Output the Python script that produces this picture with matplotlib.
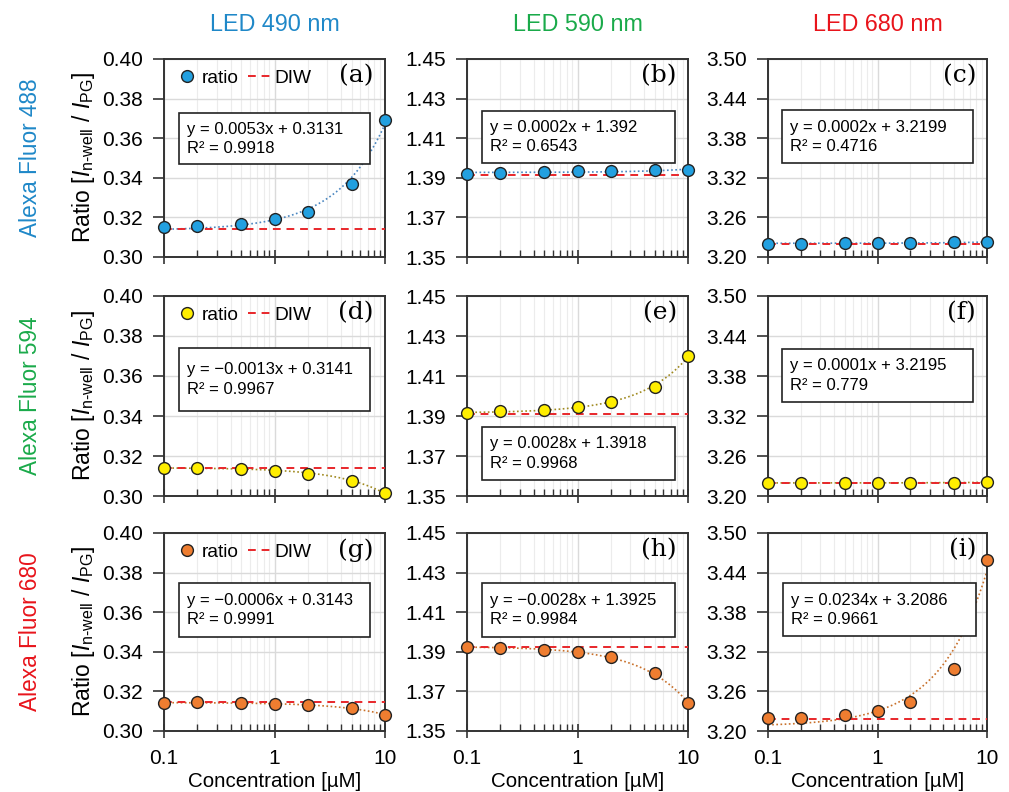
import numpy as np
import matplotlib.pyplot as plt
from matplotlib.patches import Rectangle
from matplotlib.ticker import FixedLocator, LogLocator, NullFormatter, FuncFormatter

plt.rcParams['font.family'] = ['Liberation Sans', 'DejaVu Sans']
plt.rcParams['mathtext.fontset'] = 'custom'
plt.rcParams['mathtext.rm'] = 'Liberation Sans'
plt.rcParams['mathtext.it'] = 'Liberation Sans:italic'

conc = [0.1, 0.2, 0.5, 1, 2, 5, 10]

# ratio values, rows = dye (488, 594, 680), cols = LED (490, 590, 680)
ratio = {
    'a': [0.3150, 0.3155, 0.3169, 0.3190, 0.3229, 0.3368, 0.3690],
    'b': [1.3919, 1.3926, 1.3929, 1.3933, 1.3934, 1.3939, 1.3941],
    'c': [3.2202, 3.2202, 3.2212, 3.2212, 3.2217, 3.2223, 3.2223],
    'd': [0.3141, 0.3141, 0.3137, 0.3127, 0.3112, 0.3075, 0.3014],
    'e': [1.3917, 1.3924, 1.3932, 1.3944, 1.3971, 1.4043, 1.4201],
    'f': [3.2196, 3.2196, 3.2197, 3.2197, 3.2198, 3.2200, 3.2206],
    'g': [0.3142, 0.3144, 0.3142, 0.3137, 0.3129, 0.3116, 0.3082],
    'h': [1.3922, 1.3919, 1.3911, 1.3897, 1.3872, 1.3793, 1.3640],
    'i': [3.2193, 3.2203, 3.2239, 3.2305, 3.2442, 3.2941, 3.4593],
}
diw = {'a': 0.3141, 'b': 1.3916, 'c': 3.2202,
       'd': 0.3142, 'e': 1.3912, 'f': 3.2198,
       'g': 0.3146, 'h': 1.3925, 'i': 3.2188}
eqs = {
    'a': 'y = 0.0053x + 0.3131\nR² = 0.9918',
    'b': 'y = 0.0002x + 1.392\nR² = 0.6543',
    'c': 'y = 0.0002x + 3.2199\nR² = 0.4716',
    'd': 'y = \u22120.0013x + 0.3141\nR² = 0.9967',
    'e': 'y = 0.0028x + 1.3918\nR² = 0.9968',
    'f': 'y = 0.0001x + 3.2195\nR² = 0.779',
    'g': 'y = \u22120.0006x + 0.3143\nR² = 0.9991',
    'h': 'y = \u22120.0028x + 1.3925\nR² = 0.9984',
    'i': 'y = 0.0234x + 3.2086\nR² = 0.9661',
}
col_titles = ['LED 490 nm', 'LED 590 nm', 'LED 680 nm']
row_titles = ['Alexa Fluor 488', 'Alexa Fluor 594', 'Alexa Fluor 680']
title_colors = ['#1f88c8', '#1aaa4a', '#e8141b']
marker_colors = ['#22a0e0', '#ffee00', '#ee7d30']
trend_colors = ['#4a86c0', '#a08a20', '#c8702a']
ylims = [(0.30, 0.40), (1.35, 1.45), (3.20, 3.50)]
ysteps = [0.02, 0.02, 0.06]

# box positions (axes fraction): x0, y0, w, h
boxes = {
    'a': (0.07, 0.47, 0.86, 0.255), 'b': (0.07, 0.475, 0.87, 0.26), 'c': (0.065, 0.475, 0.87, 0.265),
    'd': (0.07, 0.425, 0.86, 0.315), 'e': (0.07, 0.08, 0.87, 0.265), 'f': (0.065, 0.47, 0.87, 0.265),
    'g': (0.07, 0.475, 0.86, 0.27), 'h': (0.07, 0.475, 0.87, 0.27), 'i': (0.07, 0.48, 0.88, 0.265),
}

fig = plt.figure(figsize=(10.09, 7.92), dpi=100)
lefts = [164 / 1009, 467 / 1009, 768 / 1009]
widths = [221 / 1009, 221 / 1009, 219 / 1009]
bottoms = [1 - 257 / 792, 1 - 496 / 792, 1 - 731 / 792]
heights = [198 / 792, 200 / 792, 198 / 792]

keys = 'abcdefghi'
xfit = np.logspace(-1, 1, 200)
for r in range(3):
    for c in range(3):
        k = keys[r * 3 + c]
        ax = fig.add_axes([lefts[c], bottoms[r], widths[c], heights[r]])
        ax.set_xscale('log')
        ax.set_xlim(0.1, 10)
        lo, hi = ylims[c]
        ax.set_ylim(lo, hi)
        ax.yaxis.set_major_locator(FixedLocator(np.arange(lo, hi + 1e-9, ysteps[c])))
        ax.yaxis.set_major_formatter(FuncFormatter(lambda v, p: '%.2f' % v))
        ax.xaxis.set_major_locator(FixedLocator([0.1, 1, 10]))
        ax.xaxis.set_minor_locator(LogLocator(base=10, subs=np.arange(2, 10)))
        ax.xaxis.set_minor_formatter(NullFormatter())
        ax.grid(True, which='major', color='#dadada', lw=1.0)
        ax.grid(True, which='minor', axis='x', color='#ececec', lw=0.8)
        ax.set_axisbelow(True)
        for s in ax.spines.values():
            s.set_color('#333333')
            s.set_linewidth(1.4)
        ax.tick_params(axis='y', which='major', direction='out', length=8, width=1.2,
                       color='#333333', labelsize=15, pad=7)
        ax.tick_params(axis='x', which='major', direction='inout', length=10, width=1.2,
                       color='#333333', labelsize=15, pad=8)
        ax.tick_params(axis='x', which='minor', direction='in', length=5, width=1.0, color='#333333')
        if r < 2:
            ax.tick_params(axis='x', labelbottom=False)
        else:
            ax.xaxis.set_major_formatter(FuncFormatter(lambda v, p: '%g' % v))
            ax.set_xlabel('Concentration [µM]', fontsize=14.8, labelpad=3)

        y = np.array(ratio[k])
        p = np.polyfit(conc, y, 1)
        ax.plot(xfit, np.polyval(p, xfit), ls=(0, (1, 1.5)), color=trend_colors[r], lw=1.2, zorder=2)
        ax.axhline(diw[k], color='#e8262a', ls=(0, (4, 3)), lw=1.4, zorder=3, label='DIW')
        ax.plot(conc, y, 'o', ms=8.5, mfc=marker_colors[r], mec='#222222', mew=1.0,
                clip_on=False, zorder=4, label='ratio')

        bx = boxes[k]
        ax.add_patch(Rectangle((bx[0], bx[1]), bx[2], bx[3], transform=ax.transAxes,
                               fill=True, fc='white', ec='#222222', lw=1.2, zorder=5))
        ax.text(bx[0] + 0.035, bx[1] + bx[3] / 2, eqs[k], transform=ax.transAxes,
                ha='left', va='center', fontsize=12, linespacing=1.35, zorder=6)
        ax.text(0.95, 0.915, '(%s)' % k, transform=ax.transAxes, ha='right', va='center',
                fontsize=18, family='DejaVu Serif', zorder=6)

        if c == 0:
            h, l = ax.get_legend_handles_labels()
            ax.legend(h[::-1], l[::-1], loc='upper left', ncol=2, frameon=False, fontsize=13.8,
                      handlelength=1.3, handletextpad=0.1, columnspacing=0.5,
                      borderaxespad=0.15, bbox_to_anchor=(0.0, 1.0))
            ax.set_ylabel(r'Ratio [$I_{\text{n-well}}$ / $I_{\mathrm{PG}}$]', fontsize=16.5, labelpad=4)
            fig.text(0.03, bottoms[r] + heights[r] / 2, row_titles[r], rotation=90,
                     ha='center', va='center', fontsize=16.3, color=title_colors[r])
        if r == 0:
            ax.set_title(col_titles[c], fontsize=16.8, color=title_colors[c], pad=20)

fig.savefig('out.png', dpi=100)
